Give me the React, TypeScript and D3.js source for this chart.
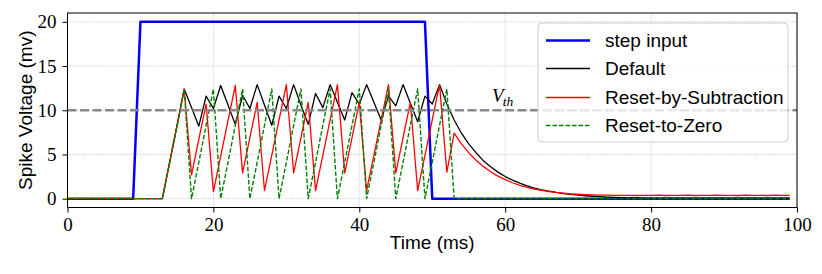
import React, { useEffect, useRef } from 'react'
import * as d3 from 'd3'

// one sample per ms
const timeMs = d3.range(0, 100)

const stepInput = [
  0, 0, 0, 0, 0, 0, 0, 0, 0, 0,
  20, 20, 20, 20, 20, 20, 20, 20, 20, 20,
  20, 20, 20, 20, 20, 20, 20, 20, 20, 20,
  20, 20, 20, 20, 20, 20, 20, 20, 20, 20,
  20, 20, 20, 20, 20, 20, 20, 20, 20, 20,
  0, 0, 0, 0, 0, 0, 0, 0, 0, 0,
  0, 0, 0, 0, 0, 0, 0, 0, 0, 0,
  0, 0, 0, 0, 0, 0, 0, 0, 0, 0,
  0, 0, 0, 0, 0, 0, 0, 0, 0, 0,
  0, 0, 0, 0, 0, 0, 0, 0, 0, 0,
]

const defaultMem = [
  0, 0, 0, 0, 0, 0, 0, 0, 0, 0, 0, 0, 0, 0,
  4.1, 8.2, 12.4, 10.3, 8.2, 11.6, 10.2, 12.8, 10.6, 8.4,
  11.7, 10.2, 12.9, 10.6, 8.3, 11.6, 10.2, 12.9, 10.6, 8.4,
  11.9, 10.3, 12.9, 10.9, 8.9, 12.0, 10.7, 12.9, 10.9, 8.9,
  11.6, 10.5, 12.9, 10.8, 8.7, 11.6, 10.7, 12.9, 10.7, 8.9,
  7.4, 6.2, 5.2, 4.3, 3.6, 3.0, 2.5, 2.1, 1.75, 1.45,
  1.2, 1.0, 0.85, 0.7, 0.58, 0.48, 0.4, 0.33, 0.27, 0.22,
  0.18, 0.15, 0.12, 0.1, 0.08, 0.07,
  0.06, 0.06, 0.05, 0.05, 0.05, 0.05, 0.05, 0.05, 0.05, 0.05,
  0.05, 0.05, 0.05, 0.05, 0.05, 0.05, 0.05, 0.05, 0.05, 0.05,
]

const subtractMem = [
  0, 0, 0, 0, 0, 0, 0, 0, 0, 0, 0, 0, 0, 0,
  4.1, 8.2, 12.4, 2.7, 6.7, 10.7, 0.8, 4.8, 8.8, 12.8,
  2.9, 6.9, 10.9, 0.9, 4.9, 8.9, 12.9, 2.9, 6.9, 10.9,
  0.9, 4.9, 8.9, 12.9, 2.9, 6.9, 10.9, 0.9, 4.9, 8.9,
  12.9, 2.9, 6.9, 10.9, 0.9, 4.9, 8.9, 12.9, 3.0, 7.4,
  6.2, 5.2, 4.35, 3.65, 3.05, 2.55, 2.15, 1.8, 1.5, 1.27,
  1.08, 0.93, 0.8, 0.7, 0.62, 0.55, 0.5, 0.46, 0.43, 0.41,
  0.39, 0.38, 0.37, 0.38, 0.36, 0.38, 0.37, 0.39, 0.36, 0.38,
  0.37, 0.39, 0.36, 0.38, 0.37, 0.39, 0.37, 0.38, 0.36, 0.39,
  0.37, 0.38, 0.36, 0.39, 0.37, 0.38,
]

const zeroMem = [
  0, 0, 0, 0, 0, 0, 0, 0, 0, 0, 0, 0, 0, 0,
  4.1, 8.2, 12.4, 0, 4.1, 8.3, 12.4, 0, 4.1, 8.3,
  12.4, 0, 4.1, 8.3, 12.4, 0, 4.1, 8.3, 12.4, 0,
  4.1, 8.3, 12.4, 0, 4.1, 8.3, 12.4, 0, 4.1, 8.3,
  12.4, 0, 4.1, 8.3, 12.4, 0, 4.1, 8.3, 12.4, 0,
  0, 0, 0, 0, 0, 0, 0, 0, 0, 0,
  0, 0, 0, 0, 0, 0, 0, 0, 0, 0,
  0, 0, 0, 0, 0, 0, 0, 0, 0, 0,
  0, 0, 0, 0, 0, 0, 0, 0, 0, 0,
  0, 0, 0, 0, 0, 0,
]

const threshold = 10
const xTicks = [0, 20, 40, 60, 80, 100]
const yTicks = [0, 5, 10, 15, 20]

const seriesNames = ['step input', 'Default', 'Reset-by-Subtraction', 'Reset-to-Zero']
const seriesData = [stepInput, defaultMem, subtractMem, zeroMem]
const seriesColors = ['#0000ff', '#000000', '#ff0000', '#008000']
const seriesWidths = [2.5, 1.3, 1.3, 1.4]
const seriesDash = [null, null, null, '4.5,2']

const W = 822
const H = 274
const SERIF = '"Liberation Serif", "DejaVu Serif", serif'
const SANS = '"Liberation Sans", Arial, sans-serif'

const App: React.FC = () => {
  const ref = useRef<SVGSVGElement>(null)

  useEffect(() => {
    if (!ref.current) return
    const svg = d3.select(ref.current)
    svg.selectAll('*').remove()

    const margin = { top: 13, right: 25, bottom: 66.5, left: 67.5 }
    const iw = W - margin.left - margin.right
    const ih = H - margin.top - margin.bottom

    const x = d3.scaleLinear().domain([0, 100]).range([0, iw])
    const y = d3.scaleLinear().domain([-1, 21]).range([ih, 0])

    svg.append('rect').attr('width', W).attr('height', H).attr('fill', '#fff')

    const g = svg.append('g').attr('transform', `translate(${margin.left},${margin.top})`)

    svg.append('defs').append('clipPath').attr('id', 'plot-clip')
      .append('rect').attr('width', iw).attr('height', ih)

    // grid
    const grid = g.append('g')
    grid.selectAll('.gx').data(xTicks).enter().append('line')
      .attr('x1', d => x(d)).attr('x2', d => x(d))
      .attr('y1', 0).attr('y2', ih)
      .attr('stroke', '#b0b0b0').attr('stroke-width', 0.8)
      .attr('stroke-dasharray', '0.8,1.3')
    grid.selectAll('.gy').data(yTicks).enter().append('line')
      .attr('x1', 0).attr('x2', iw)
      .attr('y1', d => y(d)).attr('y2', d => y(d))
      .attr('stroke', '#b0b0b0').attr('stroke-width', 0.8)
      .attr('stroke-dasharray', '0.8,1.3')

    const plot = g.append('g').attr('clip-path', 'url(#plot-clip)')

    const line = d3.line<number>()
      .x((_, i) => x(timeMs[i]))
      .y(d => y(d))

    seriesData.forEach((data, k) => {
      const p = plot.append('path')
        .datum(data)
        .attr('d', line)
        .attr('fill', 'none')
        .attr('stroke', seriesColors[k])
        .attr('stroke-width', seriesWidths[k])
        .attr('stroke-linejoin', 'round')
      if (seriesDash[k]) p.attr('stroke-dasharray', seriesDash[k] as string)
    })

    // threshold line
    plot.append('line')
      .attr('x1', 0).attr('x2', iw)
      .attr('y1', y(threshold)).attr('y2', y(threshold))
      .attr('stroke', '#888888').attr('stroke-width', 2.5)
      .attr('stroke-dasharray', '9,3.5')

    const vth = g.append('text')
      .attr('x', x(58.2)).attr('y', y(10.9))
      .attr('font-family', SERIF).attr('font-style', 'italic')
      .attr('font-size', 19).attr('fill', '#000')
    vth.append('tspan').text('V')
    vth.append('tspan').attr('font-size', 13.5).attr('dy', 4).attr('dx', -1).text('th')

    // axes
    const xAxis = g.append('g')
      .attr('transform', `translate(0,${ih})`)
      .call(d3.axisBottom(x).tickValues(xTicks).tickSize(5).tickPadding(5).tickFormat(d3.format('d')))
    const yAxis = g.append('g')
      .call(d3.axisLeft(y).tickValues(yTicks).tickSize(5).tickPadding(6).tickFormat(d3.format('d')))
    ;[xAxis, yAxis].forEach(a => {
      a.select('.domain').remove()
      a.selectAll('line').attr('stroke', '#000').attr('stroke-width', 1)
      a.selectAll('text').attr('font-family', SERIF).attr('font-size', 19).attr('fill', '#000')
    })

    g.append('rect')
      .attr('width', iw).attr('height', ih)
      .attr('fill', 'none').attr('stroke', '#000').attr('stroke-width', 1)

    // labels
    svg.append('text')
      .attr('x', margin.left + iw / 2).attr('y', 249)
      .attr('text-anchor', 'middle')
      .attr('font-family', SANS).attr('font-size', 19)
      .text('Time (ms)')
    svg.append('text')
      .attr('transform', `translate(32,${margin.top + ih / 2}) rotate(-90)`)
      .attr('text-anchor', 'middle')
      .attr('font-family', SANS).attr('font-size', 19)
      .text('Spike Voltage (mv)')

    // legend
    const lg = svg.append('g').attr('transform', 'translate(538,23)')
    lg.append('rect')
      .attr('width', 250).attr('height', 119).attr('rx', 4)
      .attr('fill', '#fff').attr('fill-opacity', 0.8)
      .attr('stroke', '#cccccc').attr('stroke-width', 1)
    seriesNames.forEach((name, k) => {
      const cy = 17.5 + Math.floor(k * 28.5)
      const l = lg.append('line')
        .attr('x1', 8).attr('x2', 52).attr('y1', cy).attr('y2', cy)
        .attr('stroke', seriesColors[k]).attr('stroke-width', seriesWidths[k])
      if (seriesDash[k]) l.attr('stroke-dasharray', seriesDash[k] as string)
      lg.append('text')
        .attr('x', 67).attr('y', cy + 6.5)
        .attr('font-family', SANS).attr('font-size', 19)
        .text(name)
    })
  }, [])

  return (
    <svg ref={ref} width={W} height={H}
      style={{ position: 'absolute', left: 0, top: 0, display: 'block' }} />
  )
}

export default App
